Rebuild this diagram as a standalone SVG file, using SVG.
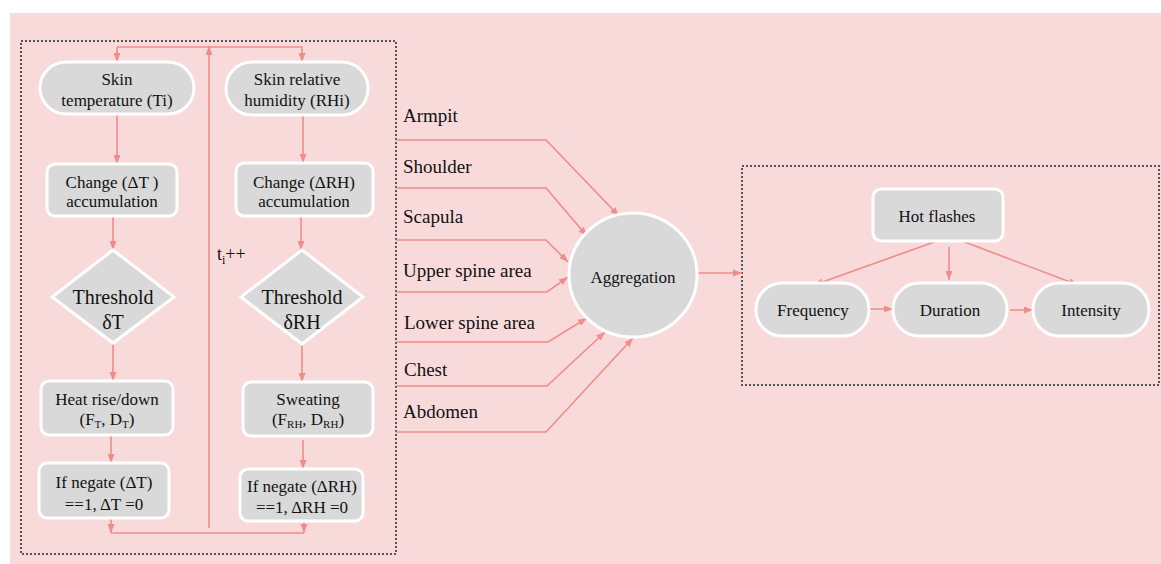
<svg xmlns="http://www.w3.org/2000/svg" width="1161" height="564" viewBox="0 0 1161 564" font-family="Liberation Serif, Times New Roman, Tinos, DejaVu Serif, serif">
<defs>
<style>
.bg{fill:#F9DADB}
.box{fill:none;stroke:#555;stroke-width:2;stroke-dasharray:2 2}
.n{fill:#D9D9D9;stroke:#fff;stroke-width:3}
text{fill:#111}
.t{font-size:17px;text-anchor:middle}
.d{font-size:20px;text-anchor:middle}
.l{font-size:19px}
.c{fill:none;stroke:#F08C8A;stroke-width:1.6}
.a{marker-end:url(#ah)}
</style>
<marker id="ah" markerWidth="9" markerHeight="7" refX="9" refY="3.5" orient="auto" markerUnits="userSpaceOnUse">
<path d="M0,0 L9,3.5 L0,7 z" fill="#F08C8A"/>
</marker>
</defs>
<rect class="bg" x="10" y="13" width="1151" height="551"/>
<rect class="box" x="21" y="41" width="375" height="513"/>
<rect class="box" x="742" y="166" width="417" height="219"/>

<g id="connectors">
<path class="c" d="M117,47 L302,47"/>
<path class="c a" d="M117,47 L117,62"/>
<path class="c a" d="M302,47 L302,62"/>
<path class="c a" d="M209,528 L209,46"/>
<path class="c a" d="M117,114 L117,164"/>
<path class="c a" d="M113,216 L113,250"/>
<path class="c a" d="M113,343 L113,381"/>
<path class="c a" d="M111,435 L111,463"/>
<path class="c a" d="M111,518 L111,533"/>
<path class="c a" d="M303,115 L303,163"/>
<path class="c a" d="M301,216 L301,250"/>
<path class="c a" d="M302,344 L302,382"/>
<path class="c a" d="M303,440 L303,469"/>
<path class="c a" d="M304,521 L304,533"/>
<path class="c" d="M111,533 L304,533"/>
<path class="c a" d="M396,140 L546,140 L619,216"/>
<path class="c a" d="M396,188 L546,188 L587,236"/>
<path class="c a" d="M396,240 L546,240 L568,262"/>
<path class="c a" d="M396,292 L547,292 L568,277"/>
<path class="c a" d="M396,342 L548,342 L587,318"/>
<path class="c a" d="M396,386 L547,386 L605,332"/>
<path class="c a" d="M396,432 L546,432 L633,338"/>
<path class="c a" d="M697,273 L742,273"/>
<path class="c a" d="M937,241 L814,285"/>
<path class="c a" d="M949,247 L949,280"/>
<path class="c a" d="M962,241 L1078,285"/>
<path class="c a" d="M870,309 L893,309"/>
<path class="c a" d="M1010,310 L1033,310"/>
</g>

<g id="skin-temp">
<rect class="n" x="40" y="62" width="154" height="52" rx="26"/>
<text class="t" x="117" y="85">Skin</text>
<text class="t" x="117" y="106">temperature (Ti)</text>
</g>
<g id="skin-rh">
<rect class="n" x="226" y="62" width="142" height="53" rx="26"/>
<text class="t" x="297" y="85">Skin relative</text>
<text class="t" x="297" y="106">humidity (RHi)</text>
</g>
<g id="change-t">
<rect class="n" x="47" y="164" width="130" height="52" rx="8"/>
<text class="t" x="112" y="188">Change (ΔT )</text>
<text class="t" x="112" y="207">accumulation</text>
</g>
<g id="change-rh">
<rect class="n" x="236" y="163" width="137" height="53" rx="8"/>
<text class="t" x="304" y="188">Change (ΔRH)</text>
<text class="t" x="304" y="207">accumulation</text>
</g>
<g id="threshold-t">
<polygon class="n" points="113,250 174,297 113,343 52,297"/>
<text class="d" x="113" y="304">Threshold</text>
<text class="d" x="113" y="329">δT</text>
</g>
<g id="threshold-rh">
<polygon class="n" points="302,250 363,297 302,344 241,297"/>
<text class="d" x="302" y="304">Threshold</text>
<text class="d" x="302" y="329">δRH</text>
</g>
<g id="heat">
<rect class="n" x="41" y="381" width="132" height="54" rx="8"/>
<text class="t" x="107" y="405">Heat rise/down</text>
<text class="t" x="107" y="425">(F<tspan font-size="11" dy="3">T</tspan><tspan dy="-3">, D</tspan><tspan font-size="11" dy="3">T</tspan><tspan dy="-3">)</tspan></text>
</g>
<g id="sweating">
<rect class="n" x="243" y="382" width="130" height="54" rx="8"/>
<text class="t" x="308" y="405">Sweating</text>
<text class="t" x="308" y="425">(F<tspan font-size="11" dy="3">RH</tspan><tspan dy="-3">, D</tspan><tspan font-size="11" dy="3">RH</tspan><tspan dy="-3">)</tspan></text>
</g>
<g id="negate-t">
<rect class="n" x="39" y="463" width="130" height="55" rx="8"/>
<text class="t" x="104" y="488">If negate (ΔT)</text>
<text class="t" x="104" y="510">==1, ΔT =0</text>
</g>
<g id="negate-rh">
<rect class="n" x="240" y="469" width="123" height="52" rx="8"/>
<text class="t" x="302" y="492">If negate (ΔRH)</text>
<text class="t" x="302" y="513">==1, ΔRH =0</text>
</g>
<g id="ti-label">
<text class="l" x="217" y="260" style="font-size:18px">t<tspan font-size="12" dy="4">i</tspan><tspan dy="-4">++</tspan></text>
</g>

<g id="labels">
<text class="l" x="403" y="122">Armpit</text>
<text class="l" x="403" y="173">Shoulder</text>
<text class="l" x="403" y="223">Scapula</text>
<text class="l" x="403" y="277">Upper spine area</text>
<text class="l" x="404" y="329">Lower spine area</text>
<text class="l" x="404" y="376">Chest</text>
<text class="l" x="403" y="418">Abdomen</text>
</g>

<g id="aggregation">
<ellipse class="n" cx="633" cy="275" rx="64" ry="62"/>
<text class="t" x="633" y="283">Aggregation</text>
</g>
<g id="hot-flashes">
<rect class="n" x="873" y="189" width="130" height="52" rx="8"/>
<text class="t" x="937" y="222">Hot flashes</text>
</g>
<g id="frequency">
<rect class="n" x="756" y="283" width="113" height="53" rx="26"/>
<text class="t" x="813" y="316">Frequency</text>
</g>
<g id="duration">
<rect class="n" x="893" y="283" width="114" height="53" rx="26"/>
<text class="t" x="950" y="316">Duration</text>
</g>
<g id="intensity">
<rect class="n" x="1033" y="283" width="116" height="53" rx="26"/>
<text class="t" x="1091" y="316">Intensity</text>
</g>
</svg>
